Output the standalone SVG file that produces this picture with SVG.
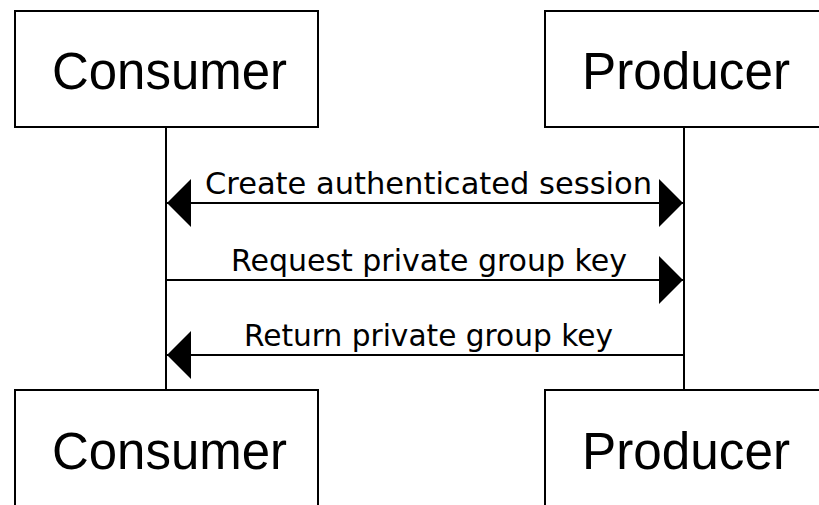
<svg xmlns="http://www.w3.org/2000/svg" width="819" height="505" viewBox="0 0 819 505">
  <style>
    .box { fill: #ffffff; stroke: #000000; stroke-width: 2; }
    .title { font-family: "Liberation Sans", Arial, sans-serif; font-size: 51px; fill: #000000; }
    .life { stroke: #000000; stroke-width: 2; fill: none; }
    .msg { stroke: #000000; stroke-width: 2; fill: none; }
    .label { font-family: "DejaVu Sans", sans-serif; font-size: 30px; fill: #000000; }
  </style>
  <defs>
    <marker id="head" viewBox="0 0 24 48" refX="24" refY="24" markerWidth="24" markerHeight="48" markerUnits="userSpaceOnUse" orient="auto-start-reverse">
      <path d="M0,0 L24,24 L0,48 Z" fill="#000000"/>
    </marker>
  </defs>
  <rect width="819" height="505" fill="#ffffff"/>
  <g id="connectors">
    <line class="life" x1="166" y1="127" x2="166" y2="390"/>
    <line class="life" x1="684" y1="127" x2="684" y2="390"/>
    <line class="msg" x1="167" y1="203" x2="683" y2="203" marker-start="url(#head)" marker-end="url(#head)"/>
    <text class="label" x="205" y="194" textLength="447" lengthAdjust="spacingAndGlyphs">Create authenticated session</text>
    <line class="msg" x1="167" y1="280" x2="683" y2="280" marker-end="url(#head)"/>
    <text class="label" x="231" y="271" textLength="396" lengthAdjust="spacingAndGlyphs">Request private group key</text>
    <line class="msg" x1="683" y1="355" x2="167" y2="355" marker-end="url(#head)"/>
    <text class="label" x="244" y="346" textLength="369" lengthAdjust="spacingAndGlyphs">Return private group key</text>
  </g>
  <g id="consumer-top">
    <rect class="box" x="15" y="11" width="303" height="116"/>
    <text class="title" x="52" y="89" textLength="235" lengthAdjust="spacingAndGlyphs">Consumer</text>
  </g>
  <g id="producer-top">
    <rect class="box" x="545" y="11" width="278" height="116"/>
    <text class="title" x="582" y="89" textLength="208" lengthAdjust="spacingAndGlyphs">Producer</text>
  </g>
  <g id="consumer-bottom">
    <rect class="box" x="15" y="390" width="303" height="130"/>
    <text class="title" x="52" y="469" textLength="235" lengthAdjust="spacingAndGlyphs">Consumer</text>
  </g>
  <g id="producer-bottom">
    <rect class="box" x="545" y="390" width="278" height="130"/>
    <text class="title" x="582" y="469" textLength="208" lengthAdjust="spacingAndGlyphs">Producer</text>
  </g>
</svg>
